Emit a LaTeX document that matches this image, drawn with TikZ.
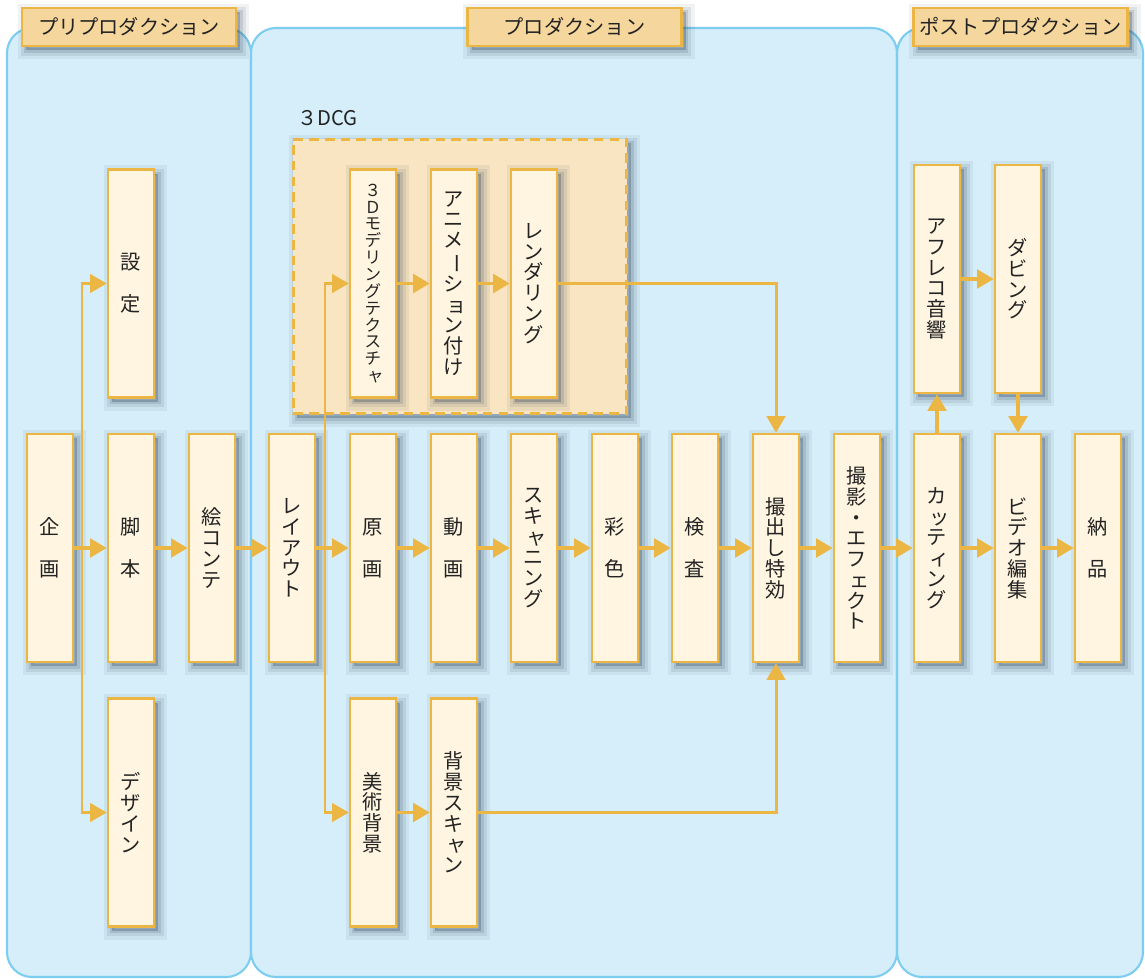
\documentclass[tikz,border=0pt]{standalone}
\usepackage{fontspec}
\usepackage{graphicx}
\setmainfont{Noto Sans CJK JP}
\usetikzlibrary{arrows.meta}
\definecolor{panelfill}{RGB}{214,238,250}
\definecolor{paneledge}{RGB}{125,205,240}
\definecolor{hdrfill}{RGB}{245,214,156}
\definecolor{flowcol}{RGB}{236,182,68}
\definecolor{boxfill}{RGB}{255,245,225}
\definecolor{cgfill}{RGB}{249,229,193}
\definecolor{shade}{RGB}{50,70,90}
\definecolor{ink}{RGB}{35,35,35}
\newcommand\kogaki[1]{\hspace{.3em}#1}
\newcommand\chouon{\rotatebox[origin=c]{-90}{ー}}

\begin{document}
\begin{tikzpicture}[x=.02cm,y=-.02cm,>={Triangle[length=9.5pt,width=10.5pt]},
  font=\fontsize{11.5}{11.8}\selectfont,text=ink,
  soft/.style={
    preaction={solid,fill=shade,draw=shade,opacity=.07,line width=10pt,transform canvas={shift={(2.5pt,-2.5pt)}}},
    preaction={solid,fill=shade,draw=shade,opacity=.10,line width=6pt,transform canvas={shift={(2.5pt,-2.5pt)}}},
    preaction={solid,fill=shade,draw=shade,opacity=.15,line width=2.5pt,transform canvas={shift={(2.5pt,-2.5pt)}}}},
  proc/.style={soft,draw=flowcol,line width=1.4pt,fill=boxfill,minimum width=.92cm,minimum height=4.56cm,inner sep=0pt,align=center},
  phase/.style={soft,draw=flowcol,line width=1.6pt,fill=hdrfill,minimum width=4.28cm,minimum height=.76cm,inner sep=0pt},
  flow/.style={flowcol,line width=2.2pt,->},
  link/.style={flowcol,line width=1.7pt}]
\useasboundingbox (0,0) rectangle (1145,978);
% panels
\draw[paneledge,fill=panelfill,line width=1.2pt,rounded corners=.5cm] (7,28) rectangle (251,977);
\draw[paneledge,fill=panelfill,line width=1.2pt,rounded corners=.5cm] (251,28) rectangle (897,977);
\draw[paneledge,fill=panelfill,line width=1.2pt,rounded corners=.5cm] (897,28) rectangle (1143,977);
\node[phase] (pre) at (129,27) {プリプロダクション};
\node[phase] (prod) at (574.5,27) {プロダクション};
\node[phase] (post) at (1020.5,27) {ポストプロダクション};
% 3DCG group
\node[soft,draw=flowcol,line width=1.7pt,dash pattern=on 5.5pt off 3.5pt,fill=cgfill,minimum width=6.68cm,minimum height=5.5cm] (cg) at (460,276.5) {};
\node[anchor=west] (cglabel) at (291,118) {３DCG};
% main row
\node[proc] (kikaku) at (50,548) {企\\[12pt]画};
\node[proc] (kyakuhon) at (131,548) {脚\\[12pt]本};
\node[proc] (ekonte) at (212,548) {絵\\コ\\ン\\テ};
\node[proc] (layout) at (292,548) {レ\\イ\\ア\\ウ\\ト};
\node[proc] (genga) at (373,548) {原\\[12pt]画};
\node[proc] (douga) at (454,548) {動\\[12pt]画};
\node[proc] (scan) at (534,548) {ス\\キ\\\kogaki{ャ}\\ニ\\ン\\グ};
\node[proc] (saishoku) at (615,548) {彩\\[12pt]色};
\node[proc] (kensa) at (695,548) {検\\[12pt]査};
\node[proc] (totsudashi) at (776,548) {撮\\出\\し\\特\\効};
\node[proc] (satsuei) at (857,548) {撮\\影\\・\\エ\\フ\\\kogaki{ェ}\\ク\\ト};
\node[proc] (cutting) at (937,548) {カ\\\kogaki{ッ}\\テ\\\kogaki{ィ}\\ン\\グ};
\node[proc] (video) at (1018,548) {ビ\\デ\\オ\\編\\集};
\node[proc] (nouhin) at (1098,548) {納\\[12pt]品};
% upper row
\node[proc] (settei) at (131,283.5) {設\\[12pt]定};
\node[proc,font=\fontsize{9.4}{9.6}\selectfont] (model) at (373,283.5) {３\\Ｄ\\モ\\デ\\リ\\ン\\グ\\テ\\ク\\ス\\チ\\\kogaki{ャ}};
\node[proc] (anime) at (454,283.5) {ア\\ニ\\メ\\\chouon\\シ\\\kogaki{ョ}\\ン\\付\\け};
\node[proc] (render) at (534,283.5) {レ\\ン\\ダ\\リ\\ン\\グ};
\node[proc] (afreco) at (937,279) {ア\\フ\\レ\\コ\\音\\響};
\node[proc] (dubbing) at (1018,279) {ダ\\ビ\\ン\\グ};
% lower row
\node[proc] (design) at (131,812.5) {デ\\ザ\\イ\\ン};
\node[proc] (bijutsu) at (373,812.5) {美\\術\\背\\景};
\node[proc] (haikei) at (454,812.5) {背\\景\\ス\\キ\\\kogaki{ャ}\\ン};
% branch points
\coordinate (brA) at (82,548);
\coordinate (brB) at (325,548);
% connectors
\draw[flow] (kikaku) -- (kyakuhon);
\draw[link,->] (brA) |- (settei);
\draw[link,->] (brA) |- (design);
\draw[flow] (kyakuhon) -- (ekonte);
\draw[flow] (ekonte) -- (layout);
\draw[flow] (layout) -- (genga);
\draw[link,->] (brB) |- (model);
\draw[link,->] (brB) |- (bijutsu);
\draw[flow] (genga) -- (douga);
\draw[flow] (douga) -- (scan);
\draw[flow] (scan) -- (saishoku);
\draw[flow] (saishoku) -- (kensa);
\draw[flow] (kensa) -- (totsudashi);
\draw[flow] (totsudashi) -- (satsuei);
\draw[flow] (satsuei) -- (cutting);
\draw[flow] (cutting) -- (video);
\draw[flow] (video) -- (nouhin);
\draw[flow] (model) -- (anime);
\draw[flow] (anime) -- (render);
\draw[link,->] (render) -| (totsudashi);
\draw[flow] (bijutsu) -- (haikei);
\draw[link,->] (haikei) -| (totsudashi);
\draw[flow] (cutting) -- (afreco);
\draw[flow] (afreco) -- (dubbing);
\draw[flow] (dubbing) -- (video);
\end{tikzpicture}
\end{document}
